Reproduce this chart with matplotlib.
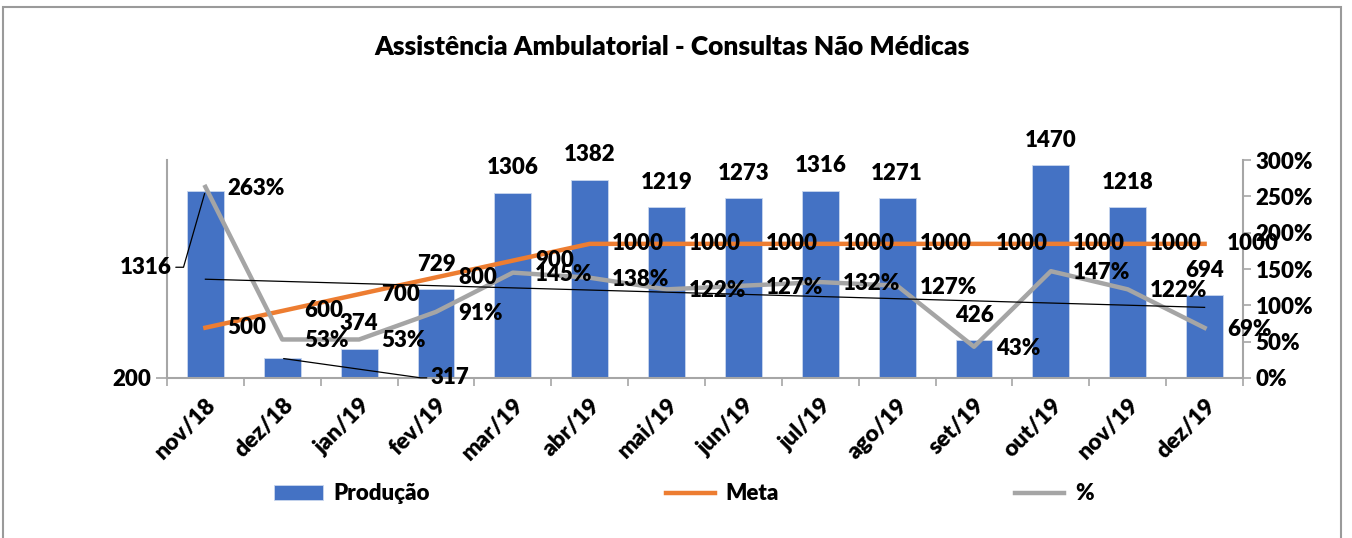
import numpy as np
import matplotlib.pyplot as plt
from matplotlib.patches import Rectangle
from matplotlib.ticker import FuncFormatter

meses = ["nov/18", "dez/18", "jan/19", "fev/19", "mar/19", "abr/19", "mai/19",
         "jun/19", "jul/19", "ago/19", "set/19", "out/19", "nov/19", "dez/19"]
producao = [1316, 317, 374, 729, 1306, 1382, 1219, 1273, 1316, 1271, 426, 1470, 1218, 694]
meta = [500, 600, 700, 800, 900, 1000, 1000, 1000, 1000, 1000, 1000, 1000, 1000, 1000]
percentual = [2.63, 0.53, 0.53, 0.91, 1.45, 1.38, 1.22, 1.27, 1.32, 1.27, 0.43, 1.47, 1.22, 0.69]

AZUL = "#4472C4"
LARANJA = "#ED7D31"
CINZA = "#A5A5A5"
EIXO = "#A6A6A6"
PESO = "heavy"

plt.rcParams["font.family"] = ["Lato", "DejaVu Sans"]
plt.rcParams["font.weight"] = PESO

fig = plt.figure(figsize=(13.52, 5.38), dpi=100)
ax = fig.add_axes([0.1235, 0.2974, 0.7959, 0.4052])
ax2 = ax.twinx()
x = np.arange(len(meses))

ax.bar(x, producao, width=0.48, color=AZUL, edgecolor="#c9d6ee",
       linewidth=0.6, label="Produção", zorder=2)
ax.plot(x, meta, color=LARANJA, lw=3.2, label="Meta", zorder=3)
ax2.plot(x, percentual, color=CINZA, lw=3.2, label="%", zorder=3)

# linha de tendência linear do %
coef = np.polyfit(x, percentual, 1)
ax2.plot(x, np.polyval(coef, x), color="black", lw=0.9, zorder=4)

ax.set_xlim(-0.5, len(meses) - 0.5)
ax.set_ylim(200, 1500)
ax2.set_ylim(0, 3)

ax.set_yticks([200])
ax2.set_yticks(np.arange(0, 3.01, 0.5))
ax2.yaxis.set_major_formatter(FuncFormatter(lambda v, _: f"{v:.0%}"))

ax.set_xticks(x)
ax.set_xticklabels(meses, rotation=45, ha="right", rotation_mode="anchor")
ax.set_xticks(np.arange(-0.5, len(meses), 1), minor=True)
ax.tick_params(axis="x", which="major", length=0, pad=12, labelsize=16.5)
ax.tick_params(axis="x", which="minor", length=6, color=EIXO, width=1.2)
ax.tick_params(axis="y", length=8, color=EIXO, width=1.2, labelsize=16, pad=3)
ax2.tick_params(axis="y", length=6, color=EIXO, width=1.2, labelsize=16, pad=3)

for a in (ax, ax2):
    a.spines["top"].set_visible(False)
ax.spines["right"].set_visible(False)
ax2.spines["left"].set_visible(False)
ax2.spines["bottom"].set_visible(False)
for s in ("left", "bottom"):
    ax.spines[s].set_color(EIXO)
    ax.spines[s].set_linewidth(1.5)
ax2.spines["right"].set_color(EIXO)
ax2.spines["right"].set_linewidth(1.5)

rotulo = dict(fontsize=16, fontweight=PESO, color="black", zorder=6)

# rótulos das barras
for i, v in enumerate(producao):
    if i == 0:
        ax2.annotate(str(v), xy=(i, v), xycoords=ax.transData,
                     xytext=(-43, -55), textcoords="offset points",
                     ha="center", va="center",
                     arrowprops=dict(arrowstyle="-", color="black", lw=0.9,
                                     shrinkA=1, shrinkB=2, relpos=(1, 0.5),
                                     connectionstyle="angle,angleA=0,angleB=74,rad=0"),
                     **rotulo)
    elif i == 1:
        ax2.annotate(str(v), xy=(i, v), xycoords=ax.transData,
                     xytext=(121, -14), textcoords="offset points",
                     ha="center", va="center",
                     arrowprops=dict(arrowstyle="-", color="black", lw=0.9,
                                     shrinkA=1, shrinkB=1, relpos=(0, 0.5),
                                     connectionstyle="angle,angleA=0,angleB=-8,rad=0"),
                     **rotulo)
    else:
        ax2.annotate(str(v), xy=(i, v), xycoords=ax.transData,
                     xytext=(0, 18), textcoords="offset points",
                     ha="center", va="center", **rotulo)

# rótulos da meta
for i, v in enumerate(meta):
    ax2.annotate(str(v), xy=(i, v), xycoords=ax.transData,
                 xytext=(16, 0), textcoords="offset points",
                 ha="left", va="center", **rotulo)

# rótulos do %
for i, v in enumerate(percentual):
    ax2.annotate(f"{v:.0%}", xy=(i, v), xytext=(16, -1),
                 textcoords="offset points", ha="left", va="center", **rotulo)

fig.text(0.497, 0.9126, "Assistência Ambulatorial - Consultas Não Médicas",
         ha="center", va="center", fontsize=19, fontweight=PESO)

h1, l1 = ax.get_legend_handles_labels()
h2, l2 = ax2.get_legend_handles_labels()
ordem = [l1.index("Produção"), l1.index("Meta")]
handles = [h1[k] for k in ordem] + h2[:1]
labels = [l1[k] for k in ordem] + l2[:1]
fig.legend(handles, labels, loc="center", bbox_to_anchor=(0.5056, 0.082),
           ncol=3, frameon=False, handlelength=2.2,
           handleheight=0.7, columnspacing=10.6, handletextpad=0.5,
           prop=dict(size=16, weight=PESO))

fig.patches.append(Rectangle((3 / 1352, -0.02), 1338 / 1352, 1 - 7 / 538 + 0.02,
                             transform=fig.transFigure, fill=False,
                             edgecolor="#9a9a9a", lw=1.5))

fig.savefig("out.png", dpi=100)
